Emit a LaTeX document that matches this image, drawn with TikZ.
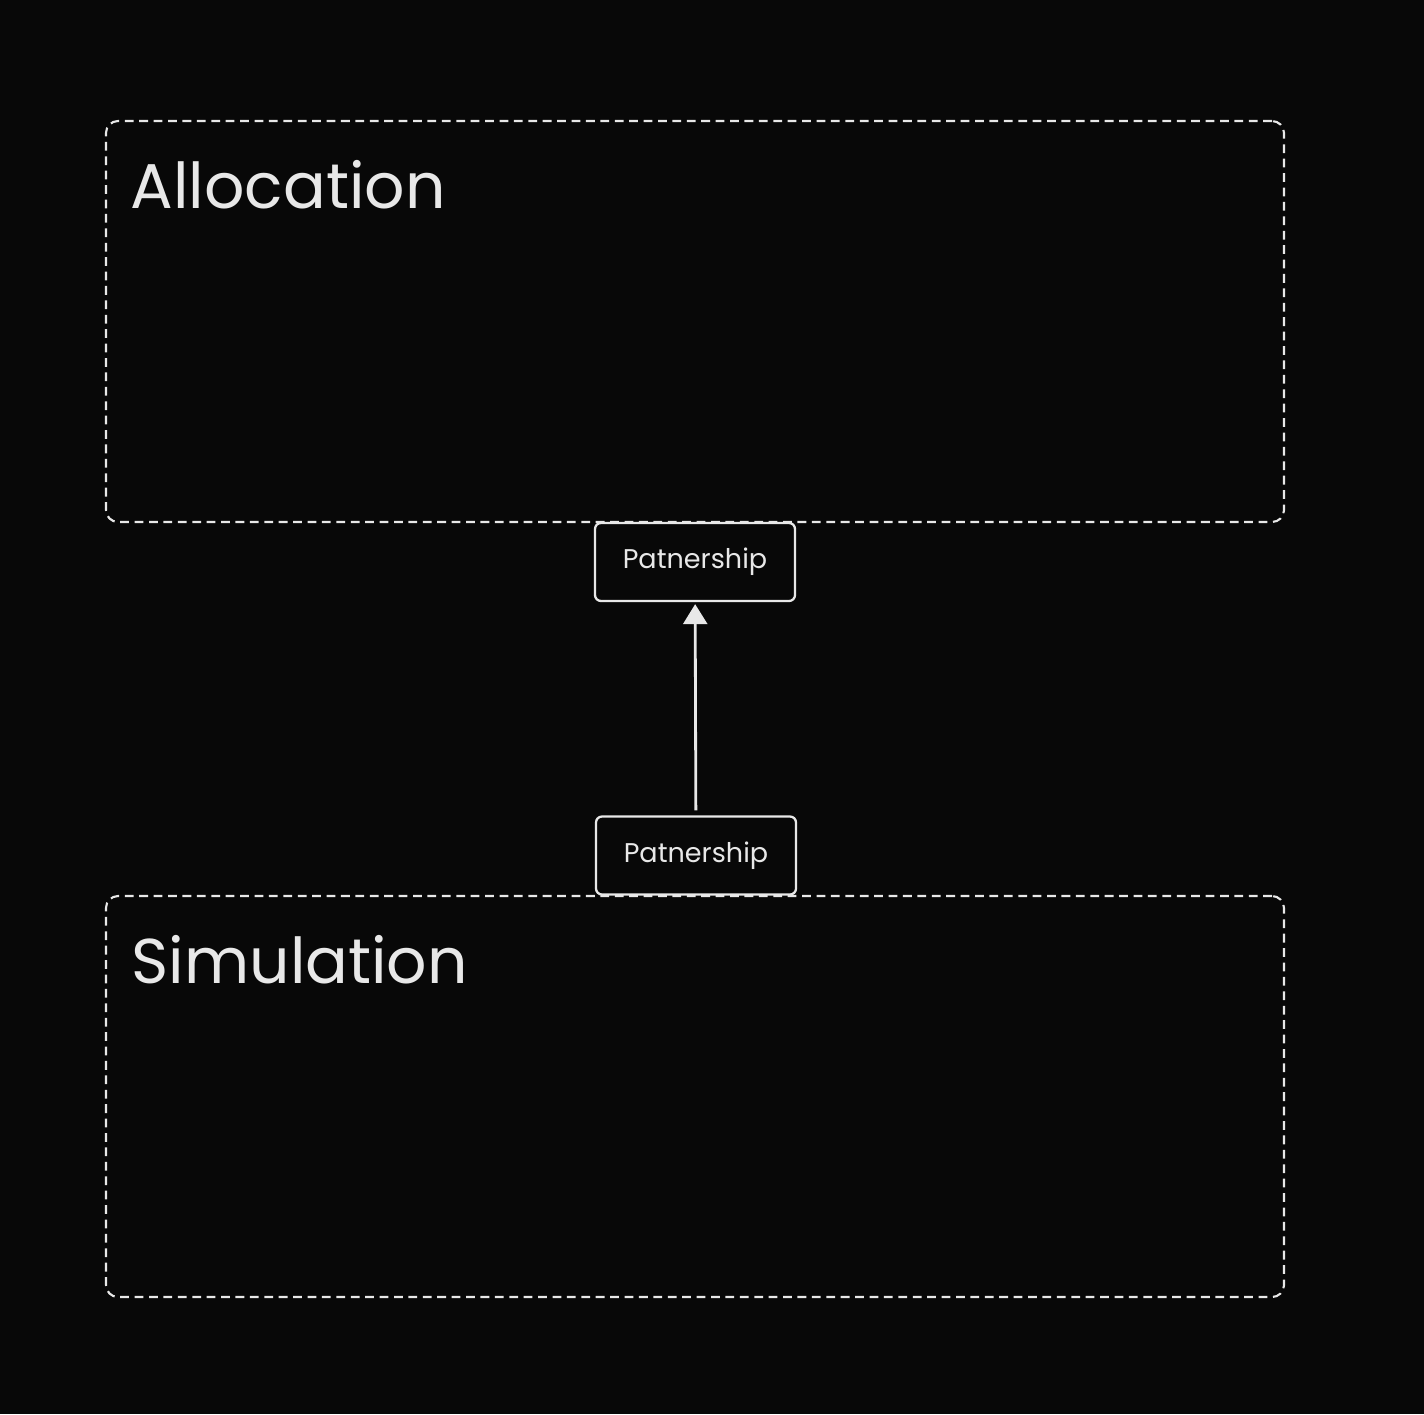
\documentclass[tikz,border=0pt]{standalone}
\usepackage{fontspec}
\setmainfont{Poppins}
\usetikzlibrary{positioning,shapes,arrows.meta}
\definecolor{bgcol}{HTML}{080808}
\definecolor{fgcol}{HTML}{E8E8E8}

\begin{document}
\begin{tikzpicture}[
  gnode/.style={draw=fgcol,line width=0.6pt,dash pattern=on 2.5pt off 1.6pt,rounded corners=0.12cm,
    minimum width=11.78cm,minimum height=4.01cm,inner sep=0pt},
  pnode/.style={draw=fgcol,fill=bgcol,line width=0.65pt,rounded corners=0.06cm,
    minimum width=2.0cm,minimum height=0.78cm,inner sep=0pt,text=fgcol,font=\fontsize{7.7}{10}\selectfont},
  tnode/.style={text=fgcol,inner sep=0pt,anchor=base west,font=\fontsize{18}{22}\selectfont}
]
\fill[bgcol] (0,0) rectangle (14.24,-14.14);
\useasboundingbox (0,0) rectangle (14.24,-14.14);
\node[gnode] (alloc) at (6.95,-3.215) {};
\node[gnode] (sim) at (6.95,-10.965) {};
\node[tnode] (allocT) at (1.30,-2.08) {Allocation};
\node[tnode] (simT) at (1.31,-9.83) {Simulation};
\node[pnode] (pup) at (6.95,-5.62) {\raisebox{-1.2pt}{Patnership}};
\node[pnode] (pdown) at (6.96,-8.555) {\raisebox{-1.2pt}{Patnership}};
\draw[fgcol,line width=0.8pt,-{Triangle[width=0.24cm,length=0.2cm]},shorten <=0.05cm,shorten >=0.02cm] (pdown) -- (pup);
\end{tikzpicture}
\end{document}
